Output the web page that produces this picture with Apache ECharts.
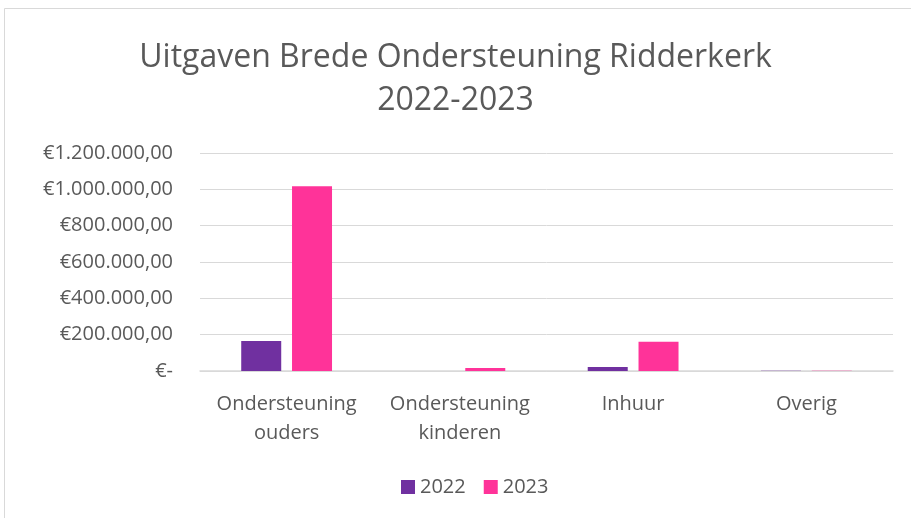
<!DOCTYPE html>
<html><head><meta charset="utf-8">
<script src="https://cdn.jsdelivr.net/npm/echarts@6/dist/echarts.min.js"></script>
<style>html,body{margin:0;padding:0;background:#fff}#c{width:911px;height:518px}</style>
</head><body><div id="c"></div>
<script>
const categories = ['Ondersteuning\nouders', 'Ondersteuning\nkinderen', 'Inhuur', 'Overig'];
const series2022 = [165000, 0, 22000, 1000];
const series2023 = [1017000, 16000, 161000, 2000];
const yTicks = { min: 0, max: 1200000, interval: 200000 };
const titleLines = 'Uitgaven Brede Ondersteuning Ridderkerk\n2022-2023';

function fmt(v) {
  if (v === 0) return '€-';
  const s = Math.round(v).toString().replace(/\B(?=(\d{3})+(?!\d))/g, '.');
  return '€' + s + ',00';
}
const chart = echarts.init(document.getElementById('c'));
const font = 'Open Sans';
chart.setOption({
  animation: false,
  title: { text: titleLines, left: 'center', top: 31, textStyle: { fontFamily: font, fontSize: 32, fontWeight: 'normal', color: '#595959', lineHeight: 43 } },
  graphic: [{ type: 'rect', shape: { x: 4.5, y: 8.5, width: 1000, height: 1000 }, style: { fill: 'none', stroke: '#d9d9d9', lineWidth: 1 }, silent: true }],
  legend: { bottom: 16, left: 396, itemWidth: 14, itemHeight: 14, itemGap: 18, icon: 'rect', textStyle: { fontFamily: font, fontSize: 20, color: '#595959', padding: [0, 0, 0, 0] }, data: ['2022', '2023'] },
  grid: { left: 200, right: 18, top: 153, bottom: 147 },
  xAxis: { type: 'category', data: categories, axisTick: { show: false },
    axisLine: { lineStyle: { color: '#d9d9d9', width: 1.5 } },
    axisLabel: { interval: 0, fontFamily: font, fontSize: 20, color: '#595959', lineHeight: 29, margin: 19 } },
  yAxis: { type: 'value', min: yTicks.min, max: yTicks.max, interval: yTicks.interval,
    axisLine: { show: false }, axisTick: { show: false },
    splitLine: { lineStyle: { color: '#d9d9d9', width: 1 } },
    axisLabel: { formatter: fmt, fontFamily: font, fontSize: 20, color: '#595959', margin: 27 } },
  series: [
    { name: '2022', type: 'bar', data: series2022, barWidth: 40, barGap: '27%', itemStyle: { color: '#7030a0' } },
    { name: '2023', type: 'bar', data: series2023, barWidth: 40, itemStyle: { color: '#ff3399' } }
  ]
});
</script></body></html>
